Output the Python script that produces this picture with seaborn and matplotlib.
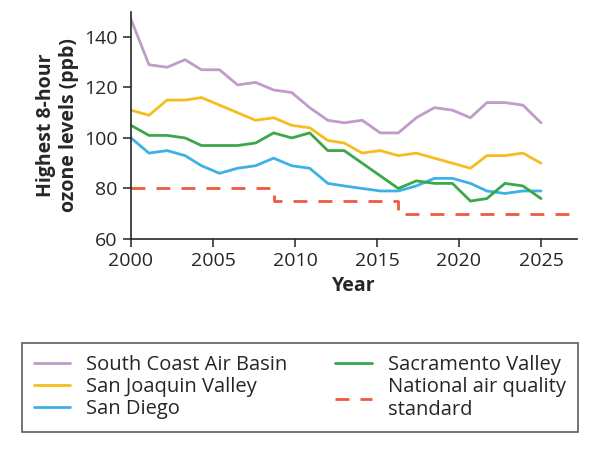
import numpy as np
import pandas as pd
import matplotlib
matplotlib.use("Agg")
import matplotlib.pyplot as plt
import seaborn as sns

years = [2000, 2001.1, 2002.2, 2003.3, 2004.3, 2005.4, 2006.5, 2007.6, 2008.7, 2009.8, 2010.9, 2012.0,
         2013.0, 2014.1, 2015.2, 2016.3, 2017.4, 2018.5, 2019.6, 2020.7, 2021.7, 2022.8, 2023.9, 2025]
south_coast = [147, 129, 128, 131, 127, 127, 121, 122, 119, 118, 112, 107, 106, 107, 102, 102, 108, 112, 111, 108, 114, 114, 113, 106]
san_joaquin = [111, 109, 115, 115, 116, 113, 110, 107, 108, 105, 104, 99, 98, 94, 95, 93, 94, 92, 90, 88, 93, 93, 94, 90]
sacramento = [105, 101, 101, 100, 97, 97, 97, 98, 102, 100, 102, 95, 95, 90, 85, 80, 83, 82, 82, 75, 76, 82, 81, 76]
san_diego = [100, 94, 95, 93, 89, 86, 88, 89, 92, 89, 88, 82, 81, 80, 79, 79, 81, 84, 84, 82, 79, 78, 79, 79]
std_years = [2000, 2008.7, 2008.7, 2016.3, 2016.3, 2027.2]
std_vals = [80, 80, 75, 75, 70, 70]

series = {
    "South Coast Air Basin": (south_coast, "#c09cc8"),
    "San Joaquin Valley": (san_joaquin, "#f5bd1f"),
    "San Diego": (san_diego, "#3db1e6"),
    "Sacramento Valley": (sacramento, "#3aa84a"),
}

sns.set_style("ticks")
plt.rcParams["font.family"] = ["Open Sans", "DejaVu Sans"]

fig = plt.figure(figsize=(5.98, 4.5), dpi=100)
ax = fig.add_axes([0.219, 0.469, 0.746, 0.505])

handles = {}
for name, (vals, col) in series.items():
    df = pd.DataFrame({"year": years, "ppb": vals})
    sns.lineplot(data=df, x="year", y="ppb", color=col, lw=2, ax=ax, estimator=None)
    handles[name] = ax.lines[-1]
sns.lineplot(x=std_years, y=std_vals, color="#ee5a3c", lw=2, ax=ax, sort=False, estimator=None)
ax.lines[-1].set_dashes([5, 4])
handles["National air quality\nstandard"] = ax.lines[-1]

ax.set_xlim(2000, 2027.2)
ax.set_ylim(60, 150)
ax.set_xticks([2000, 2005, 2010, 2015, 2020, 2025])
ax.set_yticks([60, 80, 100, 120, 140])
ax.tick_params(labelsize=14, length=6, width=1.2, color="#333333")
ax.set_xlabel("Year", fontsize=14, fontweight="bold")
ax.set_ylabel("Highest 8-hour\nozone levels (ppb)", fontsize=14, fontweight="bold")
sns.despine(ax=ax)
for s in ["left", "bottom"]:
    ax.spines[s].set_linewidth(1.2)

order = ["South Coast Air Basin", "San Joaquin Valley", "San Diego", "Sacramento Valley",
         "National air quality\nstandard"]
leg = fig.legend([handles[k] for k in order], order, loc="lower left",
                 bbox_to_anchor=(0.02, 0.018, 0.963, 0.28), mode="expand",
                 ncol=2, fontsize=14.5, frameon=True, fancybox=False, edgecolor="#333333",
                 handlelength=1.8, columnspacing=1.0, labelspacing=0.1, borderpad=0.6)
leg.get_frame().set_linewidth(1.2)

fig.savefig("out.png", dpi=100)
